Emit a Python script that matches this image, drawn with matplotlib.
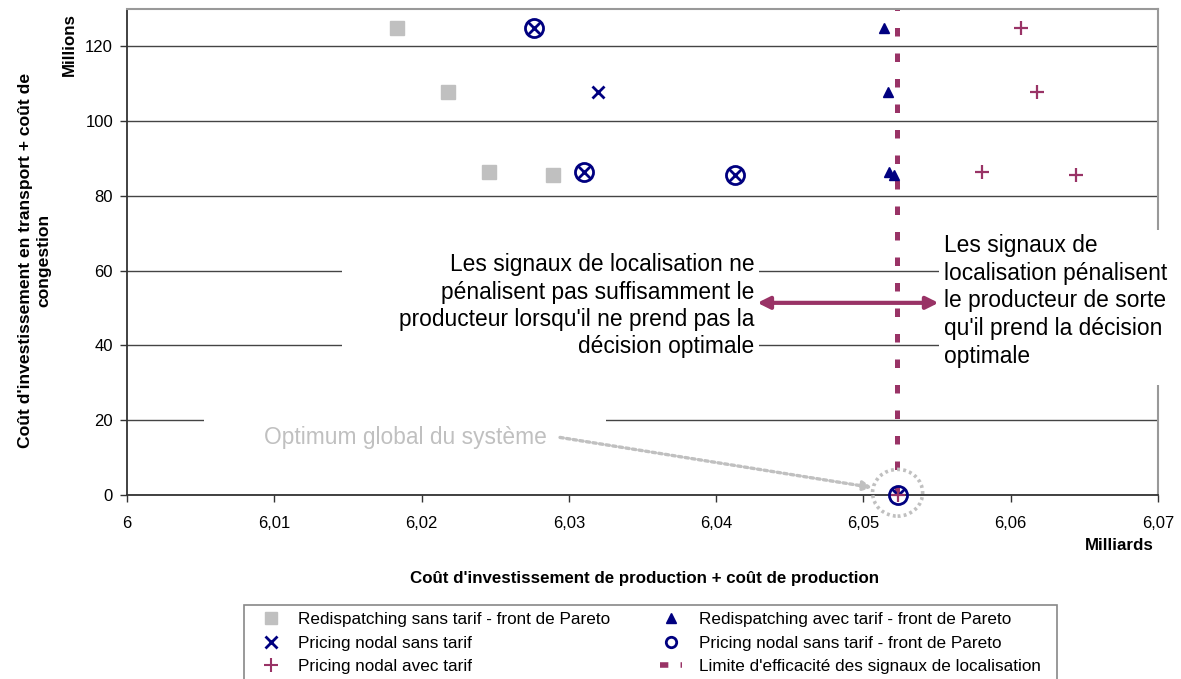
import matplotlib
matplotlib.use("Agg")
import matplotlib.pyplot as plt
from matplotlib.patches import Rectangle, Ellipse
from matplotlib.lines import Line2D
from matplotlib.ticker import FuncFormatter

plt.rcParams['font.family'] = ['Liberation Sans', 'DejaVu Sans']

# ---------------- data ----------------
redisp_sans_x = [6.01833, 6.02180, 6.02461, 6.02891]
redisp_sans_y = [125.0, 107.7, 86.4, 85.7]

redisp_avec_x = [6.05140, 6.05167, 6.05174, 6.05210]
redisp_avec_y = [125.0, 107.7, 86.4, 85.7]

nodal_sans_x = [6.02760, 6.03200, 6.03105, 6.04125, 6.05232]
nodal_sans_y = [125.0, 107.7, 86.4, 85.7, 0.0]

nodal_pareto_x = [6.02760, 6.03105, 6.04125, 6.05232]
nodal_pareto_y = [125.0, 86.4, 85.7, 0.0]

nodal_avec_x = [6.06071, 6.06180, 6.05806, 6.06445, 6.05232]
nodal_avec_y = [125.0, 107.7, 86.4, 85.7, 0.0]

limite_x = 6.05228
optimum_x, optimum_y = 6.05232, 0.0

x_ticks = [6.00, 6.01, 6.02, 6.03, 6.04, 6.05, 6.06, 6.07]
y_ticks = [0, 20, 40, 60, 80, 100, 120]

labels = ["Redispatching sans tarif - front de Pareto",
          "Pricing nodal sans tarif",
          "Pricing nodal avec tarif",
          "Redispatching avec tarif - front de Pareto",
          "Pricing nodal sans tarif - front de Pareto",
          "Limite d'efficacité des signaux de localisation"]

NAVY = "#000080"
PLUM = "#993366"
LGRAY = "#c0c0c0"

W, H = 1181, 679
fig = plt.figure(figsize=(W / 100, H / 100), dpi=100)
ax = fig.add_axes([127 / W, 1 - 495 / H, (1158 - 127) / W, (495 - 9) / H])
ax.set_xlim(6.0, 6.07)
ax.set_ylim(0, 130)
ax.set_xticks(x_ticks)
ax.set_yticks(y_ticks)
ax.xaxis.set_major_formatter(FuncFormatter(lambda v, p: ("%g" % round(v, 2)).replace(".", ",")))
ax.tick_params(axis='both', labelsize=12, length=5, width=1, color="#333333", direction='out')
ax.tick_params(axis='x', pad=10)
ax.tick_params(axis='y', pad=5)
ax.grid(axis='y', color="#444444", lw=1, zorder=0)
ax.set_axisbelow(True)
for s in ['left', 'bottom']:
    ax.spines[s].set_color("#333333")
    ax.spines[s].set_linewidth(1.3)
for s in ['top', 'right']:
    ax.spines[s].set_color("#999999")
    ax.spines[s].set_linewidth(1.5)

# white text-box backgrounds hiding gridlines
ax.add_patch(Rectangle((6.0146, 29.5), 6.0429 - 6.0146, 68 - 29.5, facecolor='white',
                       edgecolor='none', zorder=1))
ax.add_patch(Rectangle((6.0551, 29.5), 6.0765 - 6.0551, 71 - 29.5, facecolor='white',
                       edgecolor='none', zorder=3, clip_on=False))
ax.add_patch(Rectangle((6.0052, 8), 6.0325 - 6.0052, 28 - 8, facecolor='white',
                       edgecolor='none', zorder=1))

# limit line
ax.axvline(limite_x, color=PLUM, lw=3.6, dashes=(1.7, 3.4), zorder=2)

# series
ax.plot(redisp_sans_x, redisp_sans_y, ls='none', marker='s', ms=9.4, color=LGRAY, zorder=4)
ax.plot(redisp_avec_x, redisp_avec_y, ls='none', marker='^', ms=7.5, color=NAVY, zorder=4)
ax.plot(nodal_sans_x, nodal_sans_y, ls='none', marker='x', ms=8.5, mew=2, color=NAVY, zorder=5)
ax.plot(nodal_pareto_x, nodal_pareto_y, ls='none', marker='o', ms=13, mew=2,
        mfc='none', mec=NAVY, zorder=5, clip_on=False)
ax.plot(nodal_avec_x, nodal_avec_y, ls='none', marker='+', ms=10, mew=1.6, color=PLUM,
        zorder=6, clip_on=False)

# optimum circle + arrow
ax.add_patch(Ellipse((optimum_x, 0.6), 0.0034, 12.5, fill=False, edgecolor=LGRAY,
                     lw=2.6, ls=(0, (0.8, 0.9)), clip_on=False, zorder=6))
ax.annotate("", xy=(6.0506, 2.0), xytext=(6.0294, 15.4),
            arrowprops=dict(arrowstyle='-|>', color=LGRAY, lw=2.4, ls=(0, (1.0, 1.0)),
                            mutation_scale=14, shrinkA=0, shrinkB=0), zorder=6)
ax.text(6.0189, 15.5, "Optimum global du système", color=LGRAY, fontsize=16.4,
        ha='center', va='center', zorder=7)

# double arrow
ax.annotate("", xy=(6.0428, 51.4), xytext=(6.0551, 51.4),
            arrowprops=dict(arrowstyle='<|-|>', color=PLUM, lw=3, mutation_scale=18,
                            shrinkA=0, shrinkB=0), zorder=7)

ax.text(6.0426, 50.6, "Les signaux de localisation ne\npénalisent pas suffisamment le\n"
        "producteur lorsqu'il ne prend pas la\ndécision optimale",
        fontsize=16.4, ha='right', va='center', multialignment='right', linespacing=1.24,
        zorder=8)
ax.text(6.0555, 51.9, "Les signaux de\nlocalisation pénalisent\nle producteur de sorte\n"
        "qu'il prend la décision\noptimale",
        fontsize=16.4, ha='left', va='center', multialignment='left', linespacing=1.27,
        zorder=8, clip_on=False)

# axis titles
fig.text(69 / W, 1 - 45 / H, "Millions", rotation=90, fontsize=12.2, fontweight='bold',
         ha='center', va='center')
fig.text(1154 / W, 1 - 545 / H, "Milliards", fontsize=12.2, fontweight='bold',
         ha='right', va='center')
fig.text(645 / W, 1 - 579 / H, "Coût d'investissement de production + coût de production",
         fontsize=12.2, fontweight='bold', ha='center', va='center')
fig.text(35 / W, 1 - 260 / H, "Coût d'investissement en transport + coût de\ncongestion",
         rotation=90, fontsize=12.6, fontweight='bold', ha='center', va='center',
         multialignment='center', linespacing=1.3)

# legend
handles = [
    Line2D([], [], ls='none', marker='s', ms=8.5, color=LGRAY),
    Line2D([], [], ls='none', marker='x', ms=8, mew=2, color=NAVY),
    Line2D([], [], ls='none', marker='+', ms=9.5, mew=1.5, color=PLUM),
    Line2D([], [], ls='none', marker='^', ms=6.5, color=NAVY),
    Line2D([], [], ls='none', marker='o', ms=7.5, mew=2, mfc='none', mec=NAVY),
    Line2D([], [], color=PLUM, lw=4, dashes=(1.5, 2.2)),
]
fig.add_artist(Rectangle((244 / W, 1 - 690 / H), (1057 - 244) / W, (690 - 605) / H,
                         transform=fig.transFigure, facecolor='white', edgecolor='#888888',
                         lw=1.2, zorder=0))
fig.legend(handles, labels, ncol=2, frameon=False, fontsize=12.3,
           loc='upper left', bbox_to_anchor=(260 / W, 1 - 612 / H),
           borderpad=0, borderaxespad=0, handlelength=1.3, handletextpad=0.95,
           columnspacing=2.9, labelspacing=0.51)

fig.savefig("out.png", dpi=100)
